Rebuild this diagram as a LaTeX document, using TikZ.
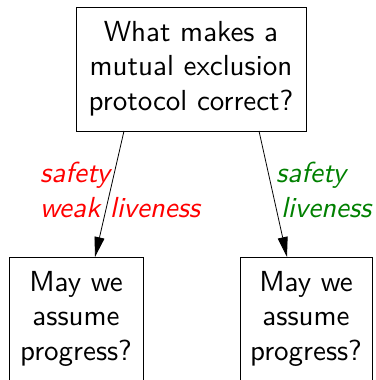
\documentclass[tikz,border=0pt]{standalone}
\usepackage{graphicx}
\usetikzlibrary{arrows.meta}
\definecolor{dkgreen}{rgb}{0,0.5,0}
% text set at 10pt and enlarged, so lines keep the 10pt design
\newcommand{\bigtext}[2]{\scalebox{2.9}{\begin{tabular}{@{}#1@{}}#2\end{tabular}}}
\begin{document}
\begin{tikzpicture}[x=1pt,y=-1pt,
  question/.style={draw,line width=1pt,inner sep=0pt,font=\sffamily},
  edgelabel/.style={inner sep=0pt,font=\sffamily\itshape},
  link/.style={line width=0.8pt,-{Triangle[length=20pt,width=10pt]}}]
\useasboundingbox (0,0) rectangle (375,380);
\node[question,minimum width=230pt,minimum height=124pt] (top) at (191,69)
  {\bigtext{c}{What makes a\\mutual exclusion\\protocol correct?}};
\node[question,minimum width=134pt,minimum height=124pt] (left) at (76,319)
  {\bigtext{c}{May we\\assume\\progress?}};
\node[question,minimum width=132pt,minimum height=124pt] (right) at (306,319)
  {\bigtext{c}{May we\\assume\\progress?}};
\coordinate (ls) at (124,131);
\coordinate (le) at (95,257);
\coordinate (rs) at (259,131);
\coordinate (re) at (287,257);
\draw[link] (ls) -- (le);
\draw[link] (rs) -- (re);
\node[edgelabel,text=red,anchor=west] (llab) at (40,193) {\bigtext{l}{safety\\weak liveness}};
\node[edgelabel,text=dkgreen,anchor=west] (rlab) at (276,193) {\bigtext{l}{safety\\\,liveness}};
\end{tikzpicture}
\end{document}
